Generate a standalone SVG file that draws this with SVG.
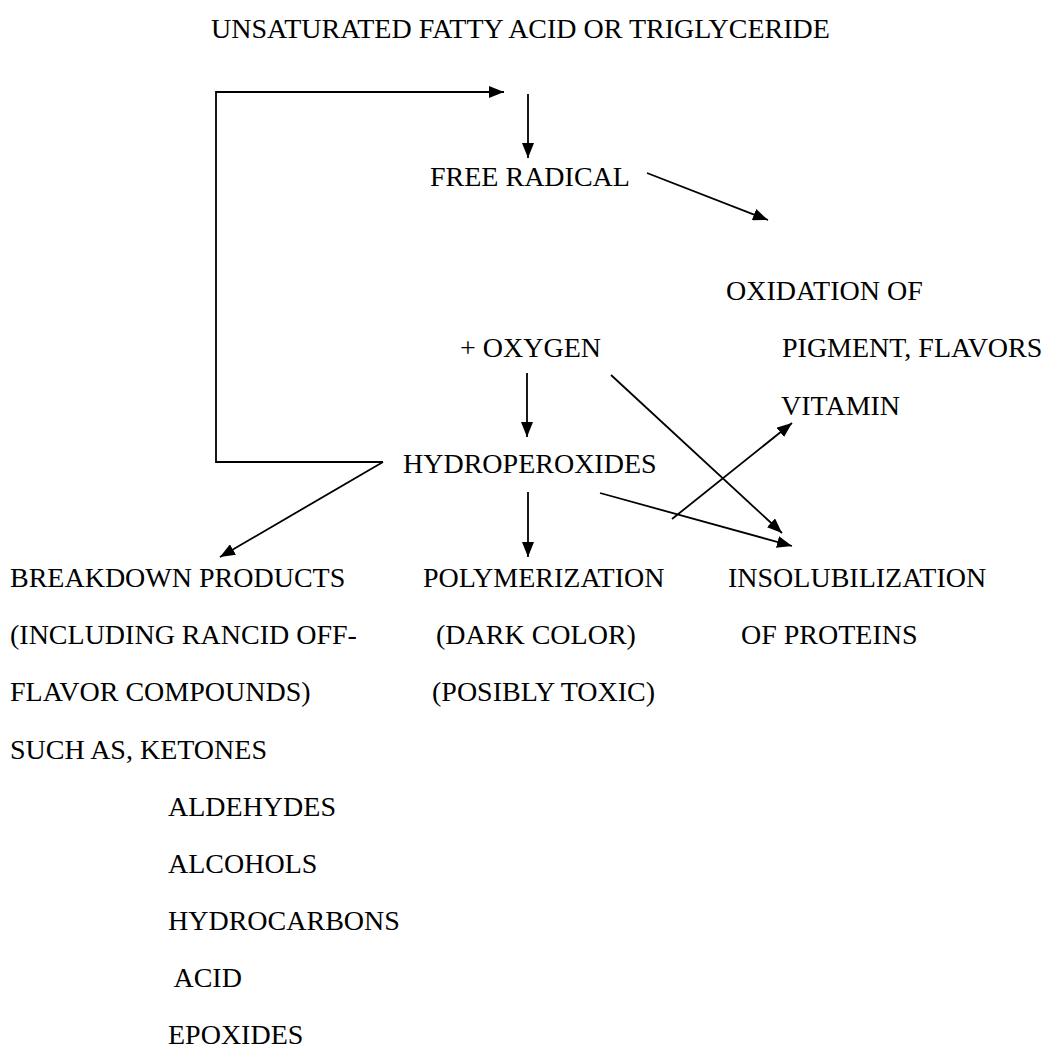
<svg xmlns="http://www.w3.org/2000/svg" width="1050" height="1049" viewBox="0 0 1050 1049">
<style>
text{font-family:"Liberation Serif","Times New Roman",serif;font-size:28px;fill:#000}
.c{stroke:#000;stroke-width:1.8;fill:none}
</style>
<defs>
<marker id="ah" viewBox="0 0 15 12" refX="15" refY="6" markerWidth="15" markerHeight="12" markerUnits="userSpaceOnUse" orient="auto">
<path d="M0,0 L15,6 L0,12 z" fill="#000"/>
</marker>
</defs>
<rect width="1050" height="1049" fill="#fff"/>
<g id="n-title"><text x="211" y="38">UNSATURATED FATTY ACID OR TRIGLYCERIDE</text></g>
<g id="n-free"><text x="430" y="186">FREE RADICAL</text></g>
<g id="n-oxid"><text x="726" y="300">OXIDATION OF</text><text x="782" y="357">PIGMENT, FLAVORS</text><text x="781" y="415">VITAMIN</text></g>
<g id="n-oxygen"><text x="460" y="357">+ OXYGEN</text></g>
<g id="n-hydro"><text x="403" y="473">HYDROPEROXIDES</text></g>
<g id="n-breakdown"><text x="10" y="587">BREAKDOWN PRODUCTS</text><text x="10" y="644">(INCLUDING RANCID OFF-</text><text x="10" y="701">FLAVOR COMPOUNDS)</text><text x="10" y="759">SUCH AS, KETONES</text><text x="168" y="816">ALDEHYDES</text><text x="168" y="873">ALCOHOLS</text><text x="168" y="930">HYDROCARBONS</text><text x="168" y="987" xml:space="preserve"> ACID</text><text x="168" y="1044">EPOXIDES</text></g>
<g id="n-poly"><text x="423" y="587">POLYMERIZATION</text><text x="436" y="644">(DARK COLOR)</text><text x="432" y="701">(POSIBLY TOXIC)</text></g>
<g id="n-insol"><text x="728" y="587">INSOLUBILIZATION</text><text x="741" y="644">OF PROTEINS</text></g>
<g id="connectors">
<polyline class="c" points="383,462 216,462 216,92 504,92" marker-end="url(#ah)"/>
<line class="c" x1="528" y1="94" x2="528" y2="158" marker-end="url(#ah)"/>
<line class="c" x1="647" y1="173" x2="768" y2="220" marker-end="url(#ah)"/>
<line class="c" x1="527" y1="373" x2="527" y2="437" marker-end="url(#ah)"/>
<line class="c" x1="611" y1="375" x2="782" y2="533" marker-end="url(#ah)"/>
<line class="c" x1="600" y1="493" x2="792" y2="546" marker-end="url(#ah)"/>
<line class="c" x1="672" y1="519" x2="792" y2="423" marker-end="url(#ah)"/>
<line class="c" x1="528" y1="492" x2="528" y2="557" marker-end="url(#ah)"/>
<line class="c" x1="383" y1="462" x2="220" y2="557" marker-end="url(#ah)"/>
</g>
</svg>
